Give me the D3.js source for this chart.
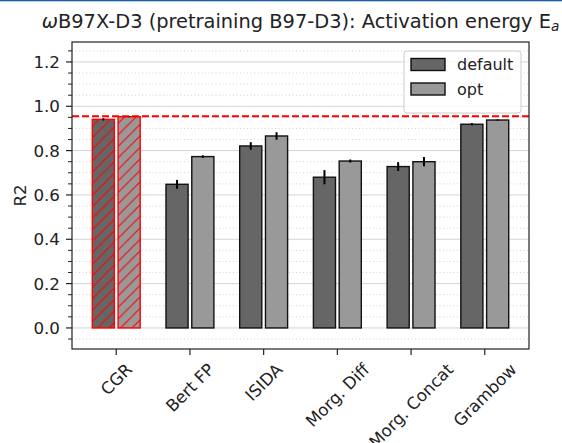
<!DOCTYPE html>
<html>
<head>
<meta charset="utf-8">
<script src="https://cdn.jsdelivr.net/npm/d3@7"></script>
<style>
  body { margin: 0; background: #fff; }
  svg { display: block; font-family: "DejaVu Sans", sans-serif; }
</style>
</head>
<body>
<svg width="562" height="443"></svg>
<script>
// chart data
const categories = ["CGR", "Bert FP", "ISIDA", "Morg. Diff", "Morg. Concat", "Grambow"];
const defaultR2 = [0.941, 0.648, 0.821, 0.680, 0.728, 0.919];
const defaultErr = [0.005, 0.020, 0.017, 0.032, 0.020, 0.005];
const optR2 = [0.953, 0.773, 0.866, 0.753, 0.750, 0.938];
const optErr = [0.002, 0.006, 0.017, 0.007, 0.021, 0.003];
const baseline = 0.955;
const yTicks = [0.0, 0.2, 0.4, 0.6, 0.8, 1.0, 1.2];
const series = ["default", "opt"];

const svg = d3.select("svg");
const pLeft = 72, pRight = 529, pTop = 42, pBottom = 349;
const fs = 16.7;

// thin blue rule at very top of the page
svg.append("rect").attr("x", 0).attr("y", 0).attr("width", 562).attr("height", 1.3).attr("fill", "#1c5ea8");

const x = d3.scalePoint().domain(categories).range([pLeft, pRight]).padding(0.6);
const y = d3.scaleLinear().domain([-0.095, 1.29]).range([pBottom, pTop]);
const step = x.step();
const barW = 0.3 * step;
const off = 0.175 * step;

// hatch for CGR bars
const defs = svg.append("defs");
const pat = defs.append("pattern").attr("id", "hatch")
  .attr("patternUnits", "userSpaceOnUse").attr("width", 11.5).attr("height", 11.5);
pat.append("path").attr("d", "M-1,1 L1,-1 M0,11.5 L11.5,0 M10.5,12.5 L12.5,10.5")
  .attr("stroke", "#ff0000").attr("stroke-width", 1.1);

// grid
const minor = d3.range(-0.05, 1.2501, 0.05).filter(v => Math.abs(Math.round(v * 5) - v * 5) > 1e-6);
svg.append("g").selectAll("line").data(minor).enter().append("line")
  .attr("x1", pLeft).attr("x2", pRight)
  .attr("y1", d => y(d)).attr("y2", d => y(d))
  .attr("stroke", "#cccccc").attr("stroke-width", 0.9).attr("stroke-dasharray", "1,2.5");
svg.append("g").selectAll("line").data(yTicks).enter().append("line")
  .attr("x1", pLeft).attr("x2", pRight)
  .attr("y1", d => y(d)).attr("y2", d => y(d))
  .attr("stroke", "#d4d4d4").attr("stroke-width", 1);

// bars
categories.forEach((c, i) => {
  const bars = [
    { v: defaultR2[i], e: defaultErr[i], dx: -off, fill: "#666666" },
    { v: optR2[i], e: optErr[i], dx: off, fill: "#999999" }
  ];
  bars.forEach(b => {
    const cx = x(c) + b.dx;
    const hatched = i === 0;
    svg.append("rect")
      .attr("x", cx - barW / 2).attr("y", y(b.v))
      .attr("width", barW).attr("height", y(0) - y(b.v))
      .attr("fill", b.fill)
      .attr("stroke", hatched ? "#ff0000" : "#111111")
      .attr("stroke-width", 1.4);
    if (hatched) {
      svg.append("rect")
        .attr("x", cx - barW / 2).attr("y", y(b.v))
        .attr("width", barW).attr("height", y(0) - y(b.v))
        .attr("fill", "url(#hatch)");
    }
    svg.append("line")
      .attr("x1", cx).attr("x2", cx)
      .attr("y1", y(b.v - b.e)).attr("y2", y(b.v + b.e))
      .attr("stroke", "#000").attr("stroke-width", 2);
  });
});

// red reference line
svg.append("line")
  .attr("x1", pLeft).attr("x2", pRight)
  .attr("y1", y(baseline)).attr("y2", y(baseline))
  .attr("stroke", "#ff0000").attr("stroke-width", 2).attr("stroke-dasharray", "7,3");

// frame
svg.append("rect").attr("x", pLeft).attr("y", pTop)
  .attr("width", pRight - pLeft).attr("height", pBottom - pTop)
  .attr("fill", "none").attr("stroke", "#222").attr("stroke-width", 1.2);

// y axis ticks
svg.append("g").selectAll("line").data(minor).enter().append("line")
  .attr("x1", pLeft - 4).attr("x2", pLeft)
  .attr("y1", d => y(d)).attr("y2", d => y(d))
  .attr("stroke", "#222").attr("stroke-width", 1);
svg.append("g").selectAll("line").data(yTicks).enter().append("line")
  .attr("x1", pLeft - 6).attr("x2", pLeft)
  .attr("y1", d => y(d)).attr("y2", d => y(d))
  .attr("stroke", "#222").attr("stroke-width", 1.2);
svg.append("g").selectAll("text").data(yTicks).enter().append("text")
  .attr("x", pLeft - 12).attr("y", d => y(d)).attr("dy", "0.36em")
  .attr("text-anchor", "end")
  .attr("font-size", fs).attr("fill", "#222")
  .text(d => d3.format(".1f")(d));

// x ticks and rotated labels
svg.append("g").selectAll("line").data(categories).enter().append("line")
  .attr("x1", d => x(d)).attr("x2", d => x(d))
  .attr("y1", pBottom).attr("y2", pBottom + 6)
  .attr("stroke", "#222").attr("stroke-width", 1.2);
const inkTop = 362;
const capH = fs * 0.73;
svg.append("g").selectAll("text").data(categories).enter().append("text")
  .attr("text-anchor", "middle").attr("dy", "0.36em")
  .attr("font-size", fs).attr("fill", "#222")
  .text(d => d)
  .each(function (d) {
    const w = this.getComputedTextLength();
    const cy = inkTop + (w + capH) * Math.SQRT1_2 / 2;
    d3.select(this).attr("transform", `translate(${x(d)},${cy}) rotate(-45)`);
  });

// y label
svg.append("text")
  .attr("transform", `translate(20,${(pTop + pBottom) / 2}) rotate(-90)`)
  .attr("text-anchor", "middle").attr("dy", "0.36em")
  .attr("font-size", fs).attr("fill", "#222")
  .text("R2");

// title
const title = svg.append("text")
  .attr("x", (pLeft + pRight) / 2).attr("y", 28)
  .attr("text-anchor", "middle").attr("font-size", 19.4).attr("fill", "#222");
title.append("tspan").attr("font-style", "italic").text("\u03c9");
title.append("tspan").text("B97X-D3 (pretraining B97-D3): Activation energy E");
title.append("tspan").attr("font-size", 13.6).attr("font-style", "italic").attr("dy", 3).text("a");

// legend
const lg = svg.append("g");
lg.append("rect").attr("x", 404).attr("y", 51).attr("width", 117).attr("height", 62)
  .attr("rx", 3).attr("fill", "#fff").attr("fill-opacity", 0.8)
  .attr("stroke", "#cccccc").attr("stroke-width", 1);
const lcol = { default: "#666666", opt: "#999999" };
series.forEach((s, i) => {
  const cy = 64.5 + i * 24.5;
  lg.append("rect").attr("x", 411).attr("y", cy - 6).attr("width", 34).attr("height", 12)
    .attr("fill", lcol[s]).attr("stroke", "#111").attr("stroke-width", 1.4);
  lg.append("text").attr("x", 457).attr("y", cy).attr("dy", "0.36em")
    .attr("font-size", 16).attr("fill", "#222")
    .text(s);
});
</script>
</body>
</html>
